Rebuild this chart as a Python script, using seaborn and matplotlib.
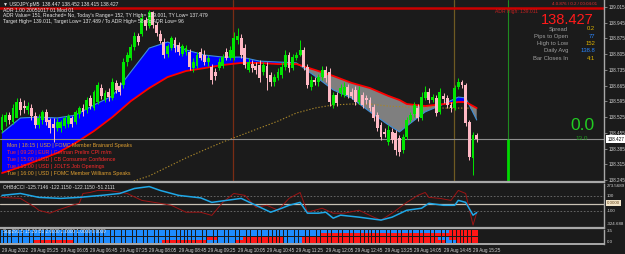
import numpy as np
import pandas as pd
import matplotlib
matplotlib.use("Agg")
import matplotlib.pyplot as plt
import seaborn as sns

# ---------------- data ----------------
opens = [138.468, 138.503, 138.534, 138.503, 138.521, 138.592, 138.574, 138.557, 138.565, 138.530,
         138.490, 138.512, 138.548, 138.512, 138.494, 138.476, 138.476, 138.485, 138.494, 138.521,
         138.503, 138.539, 138.565, 138.557, 138.610, 138.565, 138.592, 138.654, 138.601, 138.637,
         138.610, 138.677, 138.663, 138.668, 138.770, 138.788, 138.837, 138.886, 138.895, 138.957,
         138.930, 138.993, 138.935, 138.895, 138.859, 138.806, 138.832, 138.868, 138.846, 138.806,
         138.815, 138.815, 138.743, 138.752, 138.815, 138.801, 138.770, 138.748, 138.726, 138.743,
         138.752, 138.815, 138.788, 138.788, 138.868, 138.877, 138.832, 138.735, 138.761, 138.752,
         138.757, 138.726, 138.752, 138.712, 138.681, 138.699, 138.712, 138.748, 138.801, 138.743,
         138.788, 138.801, 138.824, 138.748, 138.659, 138.690, 138.681, 138.703, 138.735, 138.726,
         138.579, 138.623, 138.632, 138.623, 138.659, 138.637, 138.646, 138.592, 138.623, 138.610,
         138.601, 138.570, 138.534, 138.490, 138.459, 138.414, 138.459, 138.454, 138.432, 138.379,
         138.436, 138.512, 138.539, 138.565, 138.521, 138.610, 138.637, 138.601, 138.610, 138.548,
         138.619, 138.610, 138.579, 138.565, 138.659, 138.681, 138.668, 138.503, 138.343, 138.447]
highs = [138.539, 138.548, 138.548, 138.583, 138.610, 138.610, 138.601, 138.592, 138.583, 138.548,
         138.539, 138.557, 138.561, 138.521, 138.521, 138.521, 138.512, 138.530, 138.539, 138.530,
         138.557, 138.574, 138.583, 138.614, 138.623, 138.646, 138.681, 138.672, 138.646, 138.654,
         138.699, 138.690, 138.681, 138.788, 138.815, 138.850, 138.904, 138.899, 138.984, 138.970,
         139.001, 138.998, 138.948, 138.913, 138.877, 138.850, 138.886, 138.881, 138.859, 138.850,
         138.846, 138.828, 138.788, 138.815, 138.832, 138.824, 138.801, 138.761, 138.743, 138.788,
         138.806, 138.832, 138.841, 138.904, 138.921, 138.895, 138.850, 138.788, 138.779, 138.770,
         138.779, 138.770, 138.770, 138.726, 138.717, 138.743, 138.770, 138.824, 138.815, 138.806,
         138.815, 138.868, 138.837, 138.761, 138.708, 138.703, 138.717, 138.752, 138.752, 138.743,
         138.637, 138.637, 138.672, 138.681, 138.672, 138.654, 138.663, 138.663, 138.637, 138.623,
         138.614, 138.583, 138.548, 138.503, 138.476, 138.490, 138.476, 138.468, 138.445, 138.450,
         138.525, 138.548, 138.592, 138.583, 138.637, 138.663, 138.654, 138.628, 138.623, 138.654,
         138.632, 138.623, 138.592, 138.668, 138.699, 138.690, 138.677, 138.512, 138.459, 138.452]
lows = [138.459, 138.485, 138.494, 138.494, 138.543, 138.534, 138.543, 138.539, 138.512, 138.476,
        138.476, 138.494, 138.490, 138.454, 138.414, 138.463, 138.459, 138.476, 138.481, 138.481,
        138.494, 138.521, 138.530, 138.543, 138.561, 138.557, 138.583, 138.605, 138.592, 138.596,
        138.601, 138.632, 138.623, 138.654, 138.752, 138.779, 138.824, 138.846, 138.886, 138.913,
        138.921, 138.921, 138.886, 138.855, 138.788, 138.792, 138.824, 138.815, 138.801, 138.797,
        138.801, 138.735, 138.726, 138.743, 138.779, 138.757, 138.752, 138.672, 138.690, 138.735,
        138.743, 138.779, 138.779, 138.779, 138.850, 138.788, 138.743, 138.726, 138.726, 138.717,
        138.681, 138.712, 138.646, 138.663, 138.663, 138.690, 138.699, 138.735, 138.726, 138.735,
        138.779, 138.797, 138.735, 138.654, 138.646, 138.668, 138.663, 138.690, 138.681, 138.574,
        138.565, 138.574, 138.619, 138.614, 138.610, 138.605, 138.579, 138.583, 138.565, 138.583,
        138.552, 138.507, 138.463, 138.423, 138.436, 138.401, 138.410, 138.356, 138.352, 138.365,
        138.427, 138.503, 138.525, 138.507, 138.512, 138.601, 138.588, 138.592, 138.530, 138.539,
        138.588, 138.565, 138.548, 138.557, 138.650, 138.654, 138.485, 138.334, 138.267, 138.415]
closes = [138.525, 138.534, 138.512, 138.565, 138.592, 138.557, 138.565, 138.574, 138.530, 138.490,
          138.521, 138.548, 138.503, 138.476, 138.476, 138.503, 138.503, 138.521, 138.530, 138.494,
          138.548, 138.565, 138.548, 138.601, 138.574, 138.637, 138.668, 138.619, 138.632, 138.614,
          138.681, 138.646, 138.637, 138.770, 138.801, 138.837, 138.886, 138.859, 138.966, 138.930,
          138.993, 138.935, 138.899, 138.863, 138.801, 138.841, 138.877, 138.832, 138.815, 138.841,
          138.832, 138.748, 138.770, 138.801, 138.788, 138.770, 138.788, 138.690, 138.708, 138.770,
          138.792, 138.788, 138.824, 138.877, 138.886, 138.801, 138.757, 138.770, 138.743, 138.735,
          138.699, 138.757, 138.699, 138.681, 138.703, 138.726, 138.748, 138.801, 138.743, 138.792,
          138.801, 138.824, 138.748, 138.668, 138.690, 138.681, 138.703, 138.735, 138.699, 138.592,
          138.623, 138.588, 138.654, 138.659, 138.623, 138.619, 138.592, 138.646, 138.579, 138.601,
          138.565, 138.521, 138.476, 138.436, 138.450, 138.468, 138.423, 138.379, 138.370, 138.436,
          138.512, 138.534, 138.579, 138.521, 138.614, 138.637, 138.601, 138.614, 138.543, 138.637,
          138.605, 138.579, 138.565, 138.654, 138.681, 138.668, 138.499, 138.347, 138.445, 138.427]

ma_idx = [0, 5, 10, 15, 20, 25, 30, 35, 40, 45, 50, 55, 60, 65, 70, 75, 80, 85, 90, 95,
          100, 105, 108, 110, 115, 120, 124, 126, 129]
ma_fast = [138.454, 138.521, 138.525, 138.521, 138.534, 138.579, 138.619, 138.726, 138.832, 138.859,
           138.824, 138.801, 138.792, 138.792, 138.774, 138.770, 138.766, 138.708, 138.646, 138.610,
           138.548, 138.490, 138.459, 138.485, 138.548, 138.583, 138.614, 138.610, 138.512]
ma_slow = [138.276, 138.303, 138.334, 138.365, 138.410, 138.463, 138.525, 138.596, 138.654, 138.703,
           138.730, 138.743, 138.757, 138.766, 138.766, 138.761, 138.761, 138.735, 138.708, 138.677,
           138.654, 138.619, 138.601, 138.583, 138.574, 138.583, 138.592, 138.592, 138.565]
ma_long_idx = [35, 40, 45, 50, 55, 60, 65, 70, 75, 80, 85, 90, 95, 100, 105, 110, 115, 120, 125, 129]
ma_long = [138.236, 138.263, 138.303, 138.343, 138.379, 138.414, 138.445, 138.476, 138.507, 138.543,
           138.565, 138.579, 138.583, 138.583, 138.574, 138.570, 138.570, 138.565, 138.565, 138.565]

cci_idx = [0, 5, 10, 16, 21, 27, 32, 36, 40, 43, 48, 54, 57, 61, 65, 69, 73, 76, 78, 81,
           83, 86, 88, 90, 92, 97, 103, 106, 110, 114, 116, 120, 123, 124, 126, 128, 129]
cci_main = [112, 138, 85, 71, 85, 112, 138, 206, 232, 179, 112, 78, 17, 44, 71, -23, -117, -63, -23, 17,
            -130, -130, -117, -198, -157, -184, -224, -184, -90, -63, 4, -23, -23, 44, 17, -157, -122]
cci_sig_idx = [0, 5, 9, 10, 13, 15, 19, 21, 22, 24, 26, 29, 34, 38, 43, 46, 50, 54, 57, 60,
               63, 66, 69, 72, 75, 78, 81, 83, 87, 90, 93, 97, 101, 103, 106, 110, 113, 115, 116,
               119, 122, 124, 126, 128, 129]
cci_sig = [85, 71, -50, -90, -130, -90, -23, 4, 138, 152, 179, 179, 138, 44, 4, -23, -117, -117, -160, 17,
           138, 112, -50, -23, -90, 71, 152, -117, -63, -130, -130, -90, -184, -224, -130, 17, 112, 152, 85,
           71, 44, 179, 138, -292, -122]

sup_rows = [
    [("B", 122), ("R", 8)],
    [("B", 87), ("R", 43)],
    [("B", 56), ("R", 3), ("B", 7), ("R", 11), ("B", 5), ("R", 37), ("B", 3), ("R", 8)],
    [("B", 9), ("R", 11), ("B", 24), ("R", 12), ("B", 8), ("R", 13), ("B", 5), ("R", 39),
     ("B", 3), ("R", 6)],
]

time_pos = [0, 8, 16, 24, 32, 40, 48, 56, 64, 72, 80, 88, 96, 104, 112, 120, 128]
time_labels = ["29 Aug 2022", "29 Aug 05:25", "29 Aug 06:05", "29 Aug 06:45", "29 Aug 07:25",
               "29 Aug 08:05", "29 Aug 08:45", "29 Aug 09:25", "29 Aug 10:05", "29 Aug 10:45",
               "29 Aug 11:25", "29 Aug 12:05", "29 Aug 12:45", "29 Aug 13:25", "29 Aug 14:05",
               "29 Aug 14:45", "29 Aug 15:25"]
price_ticks = [139.015, 138.945, 138.875, 138.805, 138.735, 138.665, 138.595,
               138.525, 138.455, 138.385, 138.315, 138.245]

adr_high = 139.011
last_price = 138.427
vlines_pos = [62.7, 122.7, 137.6]

header_lines = [
    "\u25bc USDJPY.pM5  138.447 138.452 138.415 138.427",
    "ADR 1.00 20051017 01 Mod 01",
    "ADR Value= 151, Reached= No, Today's Range= 152, TY High= 139.001, TY Low= 137.479",
    "Target High= 139.011, Target Low= 137.489 / To ADR High= 58, To ADR Low= 96",
]
events = [
    ("Mon | 18:15 | USD | FOMC Member Brainard Speaks", "#e0a030"),
    ("Tue | 09:20 | EUR | German Prelim CPI m/m", "#ff2a2a"),
    ("Tue | 15:00 | USD | CB Consumer Confidence", "#ff2a2a"),
    ("Tue | 15:00 | USD | JOLTS Job Openings", "#ff2a2a"),
    ("Tue | 16:00 | USD | FOMC Member Williams Speaks", "#e0a030"),
]
info_labels = ["Spread", "Pips to Open", "High to Low", "Daily Avg", "Bar Closes In"]
info_values = ["0.2", "77", "152", "138.8", "4:1"]
info_colors = ["#e0b400", "#2a86ff", "#e0b400", "#2a86ff", "#e0b400"]

# ---------------- style ----------------
BG = "#1b1b1b"
FG = "#d2d2d2"
sns.set_theme(style="dark", rc={"axes.facecolor": BG, "figure.facecolor": BG,
                                "axes.edgecolor": "#a8a8a8", "grid.color": BG})
plt.rcParams["font.family"] = ["Liberation Sans", "DejaVu Sans"]

W, H = 625, 254
fig = plt.figure(figsize=(W / 100, H / 100), dpi=100, facecolor=BG)


def add_ax(x0, y0, x1, y1):
    return fig.add_axes([x0 / W, 1 - y1 / H, (x1 - x0) / W, (y1 - y0) / H])


def ptext(x, y, s, **kw):
    kw.setdefault("va", "center")
    kw.setdefault("fontsize", 3.6)
    kw.setdefault("color", FG)
    return fig.text(x / W, 1 - y / H, s, **kw)


def frame(a, bottom_lw=1.6):
    a.set_facecolor(BG)
    for sp in a.spines.values():
        sp.set_visible(False)
    for side, lw in (("right", 1.0), ("bottom", bottom_lw)):
        a.spines[side].set_visible(True)
        a.spines[side].set_color("#a8a8a8")
        a.spines[side].set_linewidth(lw)
    a.set_xlabel("")
    a.set_ylabel("")


X0, DX = 2.0, 3.68
XL = (-X0 / DX, (604 - X0) / DX)

ax = add_ax(0, 0, 604, 182)
axc = add_ax(0, 183.5, 604, 227.5)
axs = add_ax(0, 229.5, 604, 243.5)

# ---------------- main price panel ----------------
df = pd.DataFrame({"i": np.arange(len(closes)), "o": opens, "h": highs, "l": lows, "c": closes})
up = df["c"] >= df["o"]
cols = np.where(up, "#00e600", "#ffb8c4")

mi = np.array(ma_idx, dtype=float)
f = np.array(ma_fast)
s = np.array(ma_slow)
ax.fill_between(mi, f, s, where=f >= s, interpolate=True, color="#0000ff", lw=0, zorder=1)
ax.fill_between(mi, f, s, where=f < s, interpolate=True, color="#7f7f7f", lw=0, zorder=1)
sns.lineplot(x=ma_long_idx, y=ma_long, ax=ax, color="#a8862a", lw=0.8,
             linestyle=(0, (1.2, 1.6)), zorder=2)
sns.lineplot(x=mi, y=f, ax=ax, color="#3f8fd8", lw=0.8, zorder=2)
sns.lineplot(x=mi, y=s, ax=ax, color="#ff0000", lw=1.3, zorder=2)

ax.vlines(df["i"], df["l"], df["h"], colors=cols, lw=0.7, zorder=3)
body_lo = np.minimum(df["o"], df["c"])
body_h = np.maximum(np.abs(df["c"] - df["o"]), 0.0016)
ax.bar(df["i"], body_h, bottom=body_lo, width=0.78, color=cols, linewidth=0, zorder=3)

ax.axhline(adr_high, color="#cc0000", lw=1.8, zorder=2)
ax.axhline(last_price, color="#8e8e8e", lw=0.8, zorder=2)
ax.axvline(vlines_pos[0], color="#7a2c14", lw=0.9, zorder=1.5)
ax.axvline(vlines_pos[1], color="#6e5a22", lw=0.9, zorder=1.5)
ax.axvline(vlines_pos[2], color="#1f8a1f", lw=0.8, zorder=1.5)

ylo, yhi = 138.236, 139.046
ax.vlines(vlines_pos[2], ylo, last_price, color="#00d800", lw=2.0, zorder=2)
ax.set_xlim(*XL)
ax.set_ylim(ylo, yhi)
ax.set_xticks([])
ax.yaxis.tick_right()
ax.set_yticks(price_ticks)
ax.set_yticklabels([f"{p:.3f}" for p in price_ticks])
ax.tick_params(axis="y", length=2, width=0.5, color="#a8a8a8", pad=1.2,
               labelsize=3.3, labelcolor=FG)
frame(ax)
ax.annotate(f"{last_price:.3f}", xy=(1.0, last_price), xycoords=("axes fraction", "data"),
            xytext=(2.5, 0), textcoords="offset points", va="center", ha="left",
            fontsize=3.3, color="#000000",
            bbox=dict(boxstyle="square,pad=0.25", fc="#ffffff", ec="#ffffff", lw=0),
            annotation_clip=False)

for line, yy in zip(header_lines, [4.5, 10.5, 16, 21.5]):
    ptext(3, yy, line, fontsize=3.6, color="#e8e8e8")

for k, (txt, c) in enumerate(events):
    ptext(7, 145.7 + 7 * k, txt, fontsize=3.8, color=c)

ptext(597, 3.8, "4.0.876 / 0.2 / 00:04:01", fontsize=3.2, color="#e03030", ha="right")
ptext(495, 11.5, "ADR High: 139.011", fontsize=3.6, color="#c02020", ha="left")
ptext(594, 20, "138.427", fontsize=10.5, color="#ff1a1a", ha="right")
for k, (lab, val, vc) in enumerate(zip(info_labels, info_values, info_colors)):
    yy = 29 + 7.3 * k
    ptext(568, yy, lab, fontsize=4.2, color="#a0a0a0", ha="right")
    ptext(595, yy, val, fontsize=4.2, color=vc, ha="right")
ptext(582, 125, "0.0", fontsize=12.5, color="#22cc22", ha="center")
ptext(582, 139, "13.0", fontsize=4.6, color="#1f9a1f", ha="center")

# ---------------- CCI panel ----------------
axc.axhline(100, color="#707070", lw=0.6, ls=(0, (2, 2)))
axc.axhline(0, color="#c9c2b4", lw=0.9)
axc.axhline(-100, color="#707070", lw=0.6, ls=(0, (2, 2)))
sns.lineplot(x=cci_sig_idx, y=cci_sig, ax=axc, color="#9c1414", lw=0.7)
sns.lineplot(x=cci_idx, y=cci_main, ax=axc, color="#1fa8e8", lw=1.1)
axc.set_xlim(*XL)
axc.set_ylim(-324.688, 273.5689)
axc.set_xticks([])
axc.set_yticks([])
frame(axc)
ptext(3, 187.5, "OHBdCCI -125.7146 -122.1150 -122.1150 -51.2111", fontsize=3.5, color="#e0e0e0")
ptext(607, 186, "273.5689", fontsize=3.2)
ptext(607, 196, "100", fontsize=3.2)
ptext(607, 211, "-100", fontsize=3.2)
ptext(607, 224, "-324.688", fontsize=3.2)
ptext(607, 203.3, "0.0000", fontsize=3.2, color="#6a4a20",
      bbox=dict(boxstyle="square,pad=0.25", fc="#f2e4c8", ec="#f2e4c8", lw=0))

# ---------------- Sup panel (block rows) ----------------
n_bars = len(closes)
for r, row in enumerate(sup_rows):
    flags = [ch for ch, n in row for _ in range(n)]
    bcols = ["#ff1616" if ch == "R" else "#1e8cff" for ch in flags]
    ax_y = len(sup_rows) - 1 - r
    axs.bar(np.arange(n_bars), 0.78, bottom=ax_y + 0.11, width=0.8, color=bcols,
            linewidth=0, zorder=2)
axs.set_xlim(*XL)
axs.set_ylim(0, 4)
axs.set_yticks([])
axs.set_xticks(time_pos)
axs.set_xticklabels(time_labels, rotation=0)
for t in axs.get_xticklabels():
    t.set_ha("left")
axs.tick_params(axis="x", length=1.5, width=0.5, color="#a8a8a8", pad=1.5,
                labelsize=3.3, labelcolor=FG)
frame(axs, bottom_lw=1.4)
ptext(3, 232, "Sup291.5 15.30 B3 2.0000 2.0000 1.0000 0.0000", fontsize=3.4, color="#f0f0f0")
ptext(607, 231, "3.5", fontsize=3.2)
ptext(607, 242, "0.0", fontsize=3.2)

fig.savefig("out.png", dpi=100, facecolor=BG)
